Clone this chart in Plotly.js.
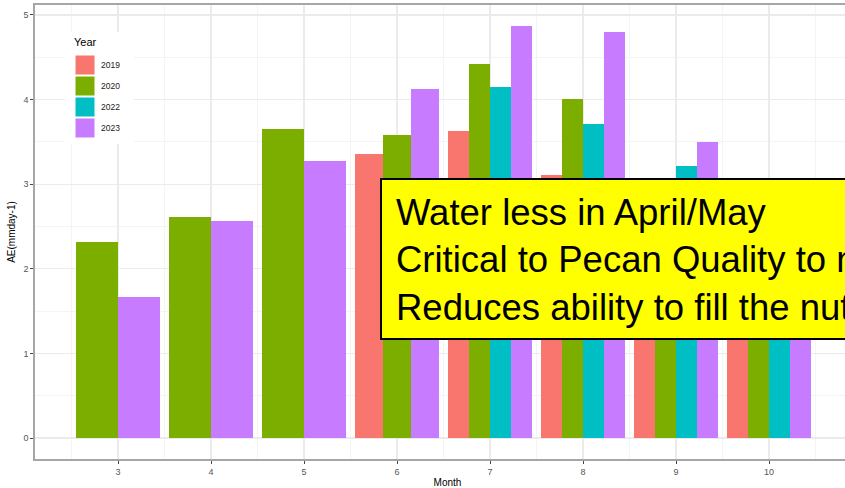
<!DOCTYPE html>
<html>
<head>
<meta charset="utf-8">
<script src="https://cdn.plot.ly/plotly-3.0.1.min.js"></script>
<style>
html,body{margin:0;padding:0;overflow:hidden;background:#fff;width:845px;height:488px;}
#chart{width:860px;height:488px;}
</style>
</head>
<body>
<div id="chart"></div>
<script>
// ---- data ----
const months = [3, 4, 5, 6, 7, 8, 9, 10];
const years = ['2019', '2020', '2022', '2023'];
const ae2019 = [null, null, null, 3.36, 3.63, 3.11, 2.70, 2.60];
const ae2020 = [2.32, 2.61, 3.65, 3.58, 4.42, 4.01, 3.00, 2.90];
const ae2022 = [null, null, null, null, 4.15, 3.71, 3.22, 2.70];
const ae2023 = [1.67, 2.56, 3.27, 4.13, 4.87, 4.80, 3.50, 2.50];
const colors = ['#F8766D', '#7CAE00', '#00BFC4', '#C77CFF'];
const noteLines = ['Water less in April/May', 'Critical to Pecan Quality to m', 'Reduces ability to fill the nut'];

const series = [ae2019, ae2020, ae2022, ae2023];
const FONT = 'Liberation Sans, Arial, sans-serif';

// ggplot-style dodge (preserve total): bars present in a month share width 0.9
const traces = series.map((vals, s) => {
  const xs = [], ys = [], ws = [];
  months.forEach((m, i) => {
    if (vals[i] === null) return;
    const present = series.map(v => v[i]).map((v, k) => v === null ? -1 : k).filter(k => k >= 0);
    const n = present.length;
    const w = 0.9 / n;
    const k = present.indexOf(s);
    xs.push(m - 0.45 + w * (k + 0.5));
    ys.push(vals[i]);
    ws.push(w);
  });
  return {
    type: 'bar', name: years[s], x: xs, y: ys, width: ws,
    marker: {color: colors[s], line: {width: 0}},
    showlegend: false, hoverinfo: 'x+y+name'
  };
});

// plot area in pixels (panel runs past the right edge of the 845px window)
const W = 860, H = 488;
const L = 35, R = 860, T = 5, B = 459;
const px = p => (p - L) / (R - L);
const py = p => (B - p) / (B - T);

const shapes = [];
const annotations = [];

// manual legend (ggplot style)
shapes.push({type: 'rect', xref: 'paper', yref: 'paper', x0: px(65), x1: px(134), y0: py(144), y1: py(32),
  fillcolor: '#ffffff', line: {width: 0}, layer: 'above'});
annotations.push({xref: 'paper', yref: 'paper', x: px(72), y: py(42), xanchor: 'left', yanchor: 'middle',
  text: 'Year', showarrow: false, font: {family: FONT, size: 11, color: '#000'}});
years.forEach((yr, i) => {
  const top = 55 + i * 21;
  shapes.push({type: 'rect', xref: 'paper', yref: 'paper', x0: px(75), x1: px(95), y0: py(top + 20), y1: py(top),
    fillcolor: colors[i], line: {width: 1, color: '#ffffff'}, layer: 'above'});
  annotations.push({xref: 'paper', yref: 'paper', x: px(99), y: py(top + 10), xanchor: 'left', yanchor: 'middle',
    text: yr, showarrow: false, font: {family: FONT, size: 8.5, color: '#1a1a1a'}});
});

// yellow note box
shapes.push({type: 'rect', xref: 'paper', yref: 'paper', x0: px(381), x1: px(900), y0: py(339), y1: py(179),
  fillcolor: '#FFFF00', line: {width: 2, color: '#000'}, layer: 'above'});
annotations.push({xref: 'paper', yref: 'paper', x: px(394), y: py(260), xanchor: 'left', yanchor: 'middle',
  align: 'left', text: noteLines.join('<br>'), showarrow: false,
  font: {family: FONT, size: 36.5, color: '#000'}});

const layout = {
  width: W, height: H,
  margin: {l: L, r: W - R, t: T, b: H - B, pad: 0},
  paper_bgcolor: '#fff', plot_bgcolor: '#fff',
  barmode: 'overlay', bargap: 0,
  font: {family: FONT},
  xaxis: {
    range: [2.1075, 2.1075 + (R - L) / 93], tickmode: 'linear', tick0: 3, dtick: 1,
    showgrid: true, gridcolor: '#ebebeb', gridwidth: 1.2,
    minor: {tickmode: 'linear', tick0: 2.5, dtick: 0.5, showgrid: true, gridcolor: '#f4f4f4', gridwidth: 1, ticks: ''},
    zeroline: false, showline: true, linecolor: '#a6a6a6', linewidth: 1.8, mirror: true,
    ticks: 'outside', ticklen: 3, tickwidth: 1, tickcolor: '#444',
    tickfont: {family: FONT, size: 9, color: '#555'},
    title: {text: 'Month', font: {family: FONT, size: 10, color: '#000'}, standoff: 8}
  },
  yaxis: {
    range: [-0.248, 5.118], tickmode: 'linear', tick0: 0, dtick: 1,
    showgrid: true, gridcolor: '#ebebeb', gridwidth: 1.2,
    minor: {tickmode: 'linear', tick0: 0.5, dtick: 0.5, showgrid: true, gridcolor: '#f4f4f4', gridwidth: 1, ticks: ''},
    zeroline: false, showline: true, linecolor: '#a6a6a6', linewidth: 1.8, mirror: false,
    ticks: 'outside', ticklen: 3, tickwidth: 1, tickcolor: '#444',
    tickfont: {family: FONT, size: 9, color: '#555'},
    title: {text: 'AE(mmday-1)', font: {family: FONT, size: 10, color: '#000'}, standoff: 6}
  },
  shapes: shapes,
  annotations: annotations,
  showlegend: false
};

Plotly.newPlot('chart', traces, layout, {displayModeBar: false, staticPlot: true});
</script>
</body>
</html>
